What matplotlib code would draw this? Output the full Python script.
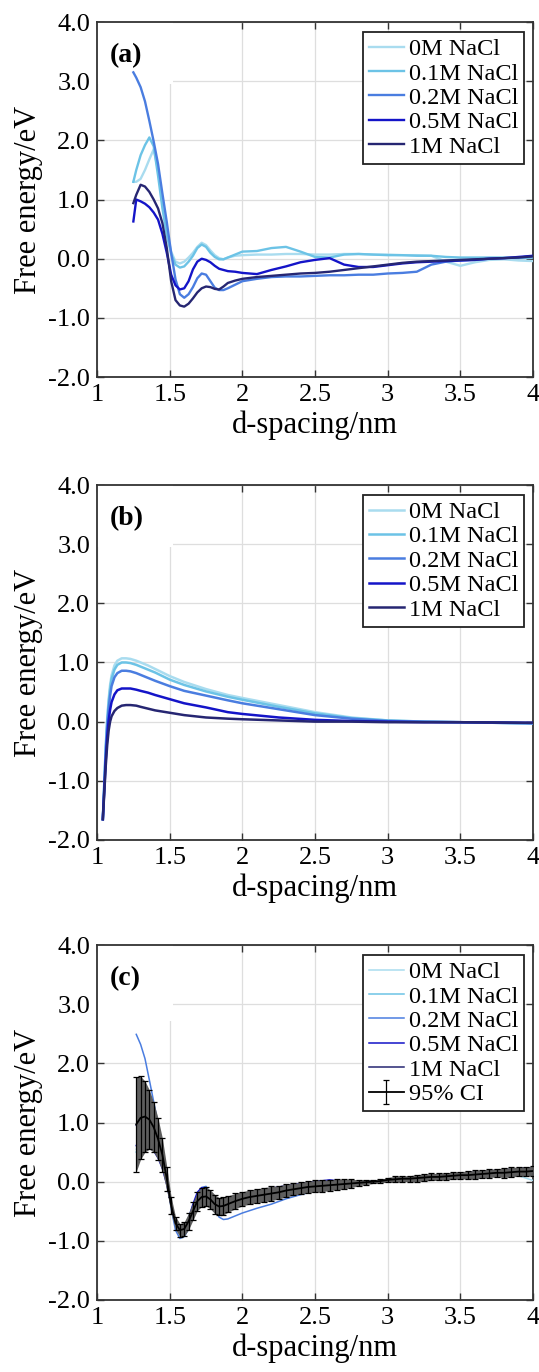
import matplotlib
matplotlib.use('Agg')
import matplotlib.pyplot as plt
from matplotlib.patches import Rectangle

plt.rcParams['font.family'] = ['Liberation Serif', 'DejaVu Serif']
plt.rcParams['axes.unicode_minus'] = False

labels = ['0M NaCl', '0.1M NaCl', '0.2M NaCl', '0.5M NaCl', '1M NaCl']
colors = ['#a9dcef', '#6cc3e6', '#4a7de0', '#1414c8', '#262672']

xticks = [1, 1.5, 2, 2.5, 3, 3.5, 4]
xtick_labels = ['1', '1.5', '2', '2.5', '3', '3.5', '4']
yticks = [-2, -1, 0, 1, 2, 3, 4]
ytick_labels = ['-2.0', '-1.0', '0.0', '1.0', '2.0', '3.0', '4.0']

# ---- panel (a) ----
xa = [1.25, 1.27, 1.30, 1.33, 1.36, 1.39, 1.42, 1.45, 1.48, 1.51, 1.54, 1.57,
      1.60, 1.63, 1.66, 1.69, 1.72, 1.75, 1.78, 1.81, 1.84, 1.87, 1.90, 1.95,
      2.00, 2.10, 2.20, 2.30, 2.40, 2.50, 2.60, 2.70, 2.80, 2.90, 3.00, 3.10,
      3.20, 3.30, 3.40, 3.50, 3.60, 3.70, 3.80, 3.90, 4.00]
a_0M = [1.30, 1.30, 1.35, 1.50, 1.68, 1.85, 1.50, 0.95, 0.45, 0.12, -0.05, -0.08,
        -0.05, 0.02, 0.10, 0.20, 0.27, 0.23, 0.14, 0.06, 0.01, -0.01, 0.02, 0.05,
        0.06, 0.07, 0.07, 0.08, 0.08, 0.07, 0.07, 0.08, 0.08, 0.07, 0.07, 0.06,
        0.06, 0.05, -0.05, -0.12, -0.06, -0.02, -0.01, -0.03, -0.04]
a_01M = [1.30, 1.50, 1.75, 1.92, 2.05, 1.90, 1.40, 0.85, 0.40, 0.08, -0.10, -0.15,
         -0.13, -0.05, 0.05, 0.18, 0.24, 0.20, 0.10, 0.03, -0.01, -0.01, 0.02, 0.07,
         0.12, 0.13, 0.18, 0.20, 0.12, 0.03, 0.02, 0.07, 0.08, 0.07, 0.06, 0.06,
         0.05, 0.05, 0.03, 0.02, 0.02, 0.02, 0.02, 0.01, 0.02]
a_02M = [3.15, 3.06, 2.90, 2.66, 2.33, 1.98, 1.60, 1.10, 0.62, 0.10, -0.35, -0.60,
         -0.66, -0.60, -0.48, -0.33, -0.25, -0.27, -0.38, -0.49, -0.53, -0.53, -0.50, -0.44,
         -0.38, -0.34, -0.31, -0.30, -0.30, -0.29, -0.28, -0.28, -0.27, -0.27, -0.25, -0.24,
         -0.22, -0.10, -0.05, -0.03, -0.02, 0.00, 0.01, 0.02, 0.04]
a_05M = [0.63, 1.00, 0.97, 0.93, 0.87, 0.78, 0.66, 0.42, 0.10, -0.27, -0.45, -0.52,
         -0.50, -0.38, -0.18, -0.05, 0.00, -0.02, -0.06, -0.12, -0.17, -0.19, -0.21, -0.22,
         -0.24, -0.26, -0.19, -0.13, -0.06, -0.02, 0.01, -0.10, -0.14, -0.14, -0.11, -0.08,
         -0.06, -0.05, -0.04, -0.03, -0.02, 0.00, 0.01, 0.03, 0.05]
a_1M = [0.94, 1.08, 1.25, 1.22, 1.13, 1.00, 0.85, 0.60, 0.18, -0.38, -0.70, -0.79,
        -0.81, -0.76, -0.67, -0.57, -0.50, -0.47, -0.48, -0.51, -0.52, -0.47, -0.41, -0.37,
        -0.34, -0.31, -0.29, -0.27, -0.25, -0.24, -0.22, -0.19, -0.16, -0.13, -0.10, -0.07,
        -0.05, -0.04, -0.03, -0.02, -0.01, 0.00, 0.01, 0.02, 0.04]

# ---- panel (b) ----
xb = [1.04, 1.05, 1.06, 1.07, 1.08, 1.09, 1.10, 1.12, 1.14, 1.17, 1.20, 1.23,
      1.27, 1.30, 1.35, 1.40, 1.50, 1.60, 1.75, 1.90, 2.00, 2.25, 2.50, 2.75,
      3.00, 3.25, 3.50, 4.00]
b_0M = [-1.65, -1.00, -0.40, 0.05, 0.38, 0.62, 0.78, 0.95, 1.03, 1.07, 1.07, 1.06,
        1.03, 1.00, 0.95, 0.89, 0.77, 0.67, 0.55, 0.45, 0.40, 0.28, 0.16, 0.07,
        0.02, 0.00, -0.01, -0.03]
b_01M = [-1.65, -1.05, -0.45, 0.00, 0.32, 0.55, 0.72, 0.88, 0.96, 1.00, 1.00, 0.99,
         0.96, 0.93, 0.88, 0.83, 0.71, 0.62, 0.51, 0.42, 0.37, 0.25, 0.14, 0.06,
         0.02, 0.00, -0.01, -0.03]
b_02M = [-1.65, -1.10, -0.52, -0.08, 0.22, 0.44, 0.60, 0.75, 0.82, 0.86, 0.86, 0.85,
         0.82, 0.79, 0.74, 0.69, 0.60, 0.52, 0.44, 0.36, 0.31, 0.21, 0.11, 0.05,
         0.01, 0.00, -0.01, -0.03]
b_05M = [-1.65, -1.15, -0.65, -0.25, 0.02, 0.20, 0.33, 0.46, 0.53, 0.56, 0.56, 0.56,
         0.54, 0.52, 0.49, 0.45, 0.38, 0.31, 0.24, 0.16, 0.13, 0.07, 0.03, 0.01,
         0.00, -0.01, -0.01, -0.02]
b_1M = [-1.65, -1.20, -0.75, -0.40, -0.15, 0.00, 0.09, 0.18, 0.23, 0.27, 0.28, 0.28,
        0.27, 0.25, 0.22, 0.19, 0.15, 0.11, 0.07, 0.05, 0.04, 0.02, 0.00, 0.00,
        -0.01, -0.01, -0.01, -0.02]

# ---- panel (c) ----
xc = [1.27, 1.30, 1.33, 1.36, 1.39, 1.42, 1.45, 1.48, 1.51, 1.54, 1.57, 1.60,
      1.63, 1.66, 1.69, 1.72, 1.75, 1.78, 1.81, 1.84, 1.87, 1.90, 1.95, 2.00,
      2.10, 2.20, 2.30, 2.40, 2.50, 2.60, 2.70, 2.80, 2.90, 3.00, 3.20, 3.40,
      3.60, 3.80, 3.90, 4.00]
c_0M = [0.55, 0.62, 0.70, 0.72, 0.65, 0.50, 0.28, -0.02, -0.38, -0.66, -0.78, -0.76,
        -0.60, -0.40, -0.28, -0.22, -0.22, -0.28, -0.36, -0.40, -0.40, -0.37, -0.32, -0.28,
        -0.22, -0.17, -0.12, -0.09, -0.06, -0.04, -0.02, 0.00, 0.01, 0.02, 0.06, 0.09,
        0.12, 0.14, 0.10, 0.02]
c_01M = [0.50, 0.70, 0.88, 0.92, 0.85, 0.65, 0.36, 0.00, -0.40, -0.70, -0.83, -0.80,
         -0.64, -0.44, -0.30, -0.24, -0.24, -0.30, -0.39, -0.44, -0.43, -0.40, -0.35, -0.31,
         -0.25, -0.19, -0.14, -0.10, -0.07, -0.05, -0.03, -0.01, 0.01, 0.02, 0.06, 0.09,
         0.13, 0.17, 0.18, 0.10]
c_02M = [2.49, 2.32, 2.08, 1.72, 1.35, 0.98, 0.55, 0.08, -0.45, -0.82, -0.96, -0.93,
         -0.80, -0.52, -0.25, -0.10, -0.08, -0.20, -0.45, -0.60, -0.64, -0.63, -0.58, -0.53,
         -0.45, -0.38, -0.29, -0.22, -0.16, -0.11, -0.05, -0.02, 0.00, 0.03, 0.08, 0.11,
         0.15, 0.18, 0.20, 0.14]
c_05M = [0.61, 0.61, 0.60, 0.58, 0.52, 0.40, 0.22, -0.05, -0.40, -0.68, -0.80, -0.78,
         -0.62, -0.38, -0.18, -0.10, -0.11, -0.20, -0.32, -0.34, -0.31, -0.28, -0.24, -0.21,
         -0.16, -0.11, -0.07, -0.03, 0.00, 0.03, 0.00, -0.02, 0.00, 0.03, 0.07, 0.11,
         0.16, 0.20, 0.22, 0.24]
c_1M = [0.95, 1.10, 1.12, 1.08, 0.96, 0.75, 0.45, 0.08, -0.38, -0.70, -0.82, -0.80,
        -0.66, -0.47, -0.32, -0.27, -0.27, -0.33, -0.41, -0.45, -0.44, -0.41, -0.36, -0.32,
        -0.26, -0.20, -0.15, -0.11, -0.08, -0.05, -0.03, -0.01, 0.01, 0.02, 0.06, 0.10,
        0.13, 0.16, 0.18, 0.19]

# mean curve and 95% CI half-width for panel (c)
x_ci = [1.27, 1.30, 1.33, 1.36, 1.39, 1.42, 1.45, 1.48, 1.51, 1.54, 1.57, 1.60,
        1.63, 1.66, 1.69, 1.72, 1.75, 1.78, 1.81, 1.84, 1.87, 1.90, 1.95, 2.00,
        2.05, 2.10, 2.15, 2.20, 2.25, 2.30, 2.35, 2.40, 2.45, 2.50, 2.55, 2.60,
        2.65, 2.70, 2.75, 2.80, 2.85, 2.90, 2.95, 3.00, 3.05, 3.10, 3.15, 3.20,
        3.25, 3.30, 3.35, 3.40, 3.45, 3.50, 3.55, 3.60, 3.65, 3.70, 3.75, 3.80,
        3.85, 3.90, 3.95, 4.00]
ci_mean = [0.97, 1.08, 1.10, 1.05, 0.92, 0.72, 0.45, 0.05, -0.40, -0.70, -0.82, -0.80,
           -0.67, -0.50, -0.33, -0.26, -0.25, -0.30, -0.38, -0.42, -0.41, -0.38, -0.33, -0.29,
           -0.26, -0.24, -0.22, -0.20, -0.18, -0.15, -0.13, -0.11, -0.09, -0.08, -0.07, -0.06,
           -0.05, -0.04, -0.03, -0.02, -0.01, 0.00, 0.01, 0.03, 0.04, 0.05, 0.05, 0.06,
           0.07, 0.08, 0.08, 0.09, 0.10, 0.11, 0.11, 0.12, 0.13, 0.14, 0.15, 0.15,
           0.16, 0.17, 0.17, 0.18]
ci_half = [0.80, 0.70, 0.60, 0.50, 0.42, 0.35, 0.28, 0.20, 0.14, 0.11, 0.11, 0.12,
           0.14, 0.15, 0.16, 0.16, 0.16, 0.16, 0.16, 0.15, 0.15, 0.14, 0.13, 0.12,
           0.12, 0.12, 0.12, 0.12, 0.11, 0.11, 0.10, 0.10, 0.10, 0.10, 0.10, 0.09,
           0.09, 0.08, 0.07, 0.05, 0.04, 0.03, 0.03, 0.04, 0.05, 0.05, 0.05, 0.06,
           0.06, 0.06, 0.06, 0.06, 0.06, 0.06, 0.07, 0.07, 0.07, 0.07, 0.07, 0.08,
           0.08, 0.08, 0.08, 0.08]

fig = plt.figure(figsize=(5.39, 13.72), dpi=100)
ax_a = fig.add_axes([0.180, 0.7252, 0.809, 0.2587])
ax_b = fig.add_axes([0.180, 0.3878, 0.809, 0.2587])
ax_c = fig.add_axes([0.180, 0.0525, 0.809, 0.2587])


def style_axes(ax, tag, box_y):
    ax.set_xlim(1, 4)
    ax.set_ylim(-2, 4)
    ax.set_xticks(xticks)
    ax.set_xticklabels(xtick_labels)
    ax.set_yticks(yticks)
    ax.set_yticklabels(ytick_labels)
    ax.grid(True, color='#dedede', lw=0.9)
    ax.set_axisbelow(True)
    ax.tick_params(direction='in', top=True, right=True, length=5, width=1.0,
                   color='#333333', labelsize=19, pad=5)
    for sp in ax.spines.values():
        sp.set_color('#333333')
        sp.set_linewidth(1.3)
    ax.set_xlabel('d-spacing/nm', fontsize=22, labelpad=3)
    ax.set_ylabel('Free energy/eV', fontsize=22, labelpad=4)
    ax.add_patch(Rectangle((1.0, box_y), 0.52, 4 - box_y, facecolor='white',
                           edgecolor='none', zorder=1))
    ax.text(0.03, 0.905, tag, transform=ax.transAxes, fontsize=20,
            fontweight='bold', va='center', ha='left', zorder=5)


style_axes(ax_a, '(a)', 2.95)
style_axes(ax_b, '(b)', 2.95)
style_axes(ax_c, '(c)', 2.72)

for ys, c, lab in zip([a_0M, a_01M, a_02M, a_05M, a_1M], colors, labels):
    ax_a.plot(xa, ys, color=c, lw=1.7, label=lab, zorder=3)

for ys, c, lab in zip([b_0M, b_01M, b_02M, b_05M, b_1M], colors, labels):
    ax_b.plot(xb, ys, color=c, lw=1.8, label=lab, zorder=3)

for ys, c, lab in zip([c_0M, c_01M, c_02M, c_05M, c_1M], colors, labels):
    ax_c.plot(xc, ys, color=c, lw=1.1, label=lab, zorder=3)

lo = [m - h for m, h in zip(ci_mean, ci_half)]
hi = [m + h for m, h in zip(ci_mean, ci_half)]
ax_c.fill_between(x_ci, lo, hi, color='#5e5e5e', lw=0, zorder=3.5)
ax_c.errorbar(x_ci, ci_mean, yerr=ci_half, color='black', lw=1.3,
              elinewidth=0.9, capsize=2.0, capthick=0.9, label='95% CI', zorder=4)

leg_kw = dict(loc='upper right', bbox_to_anchor=(0.98, 0.972), borderaxespad=0,
              fontsize=17.5, frameon=True, fancybox=False, framealpha=1,
              edgecolor='#222222', handlelength=1.45, handletextpad=0.2,
              labelspacing=0.1, borderpad=0.25)
for ax in (ax_a, ax_b, ax_c):
    leg = ax.legend(**leg_kw)
    leg.get_frame().set_linewidth(1.3)
    leg.set_zorder(10)

fig.savefig('out.png', dpi=100)
